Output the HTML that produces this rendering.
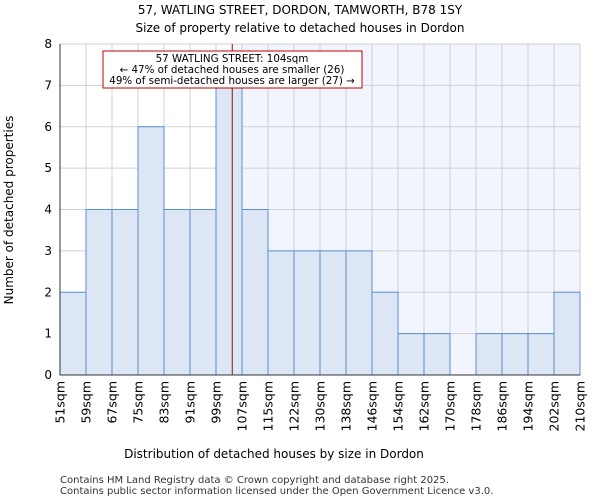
<!DOCTYPE html>
<html><head><meta charset="utf-8"><style>
body{margin:0;background:#fff;font-family:"DejaVu Sans","Liberation Sans",sans-serif}
</style></head><body>
<svg width="600" height="500" xmlns="http://www.w3.org/2000/svg" font-family="DejaVu Sans, Liberation Sans, sans-serif">
<text x="300" y="14" text-anchor="middle" font-size="12">57, WATLING STREET, DORDON, TAMWORTH, B78 1SY</text>
<text x="300" y="32" text-anchor="middle" font-size="12">Size of property relative to detached houses in Dordon</text>
<g id="plot"></g>
<text x="274" y="458" text-anchor="middle" font-size="12">Distribution of detached houses by size in Dordon</text>
<text transform="translate(13,210) rotate(-90)" text-anchor="middle" font-size="12">Number of detached properties</text>
<text x="60" y="483" font-size="10" fill="#333">Contains HM Land Registry data © Crown copyright and database right 2025.</text>
<text x="60" y="494" font-size="10" fill="#333">Contains public sector information licensed under the Open Government Licence v3.0.</text>
</svg>
<script>
const binLabels=["51sqm","59sqm","67sqm","75sqm","83sqm","91sqm","99sqm","107sqm","115sqm","122sqm","130sqm","138sqm","146sqm","154sqm","162sqm","170sqm","178sqm","186sqm","194sqm","202sqm","210sqm"];
const counts=[2,4,4,6,4,4,7,4,3,3,3,3,2,1,1,0,1,1,1,2];
const yTicks=[0,1,2,3,4,5,6,7,8];
const markerBin=6.625;
const NS="http://www.w3.org/2000/svg";
const g=document.getElementById('plot');
const X0=60,X1=580,Y0=375,Y1=44,bw=(X1-X0)/counts.length;
const xs=i=>X0+i*bw, ys=v=>Y0-(v/8)*(Y0-Y1);
function mk(t,a){const e=document.createElementNS(NS,t);for(const k in a)e.setAttribute(k,a[k]);g.appendChild(e);return e;}
const mx=xs(markerBin);
let sh=mk('rect',{x:mx,y:Y1,width:X1-mx,height:Y0-Y1,fill:'#f2f5fd'});


for(let i=0;i<=counts.length;i++){let l=mk('line',{x1:xs(i),x2:xs(i),y1:Y1,y2:Y0,stroke:'#d0d0d0','stroke-width':1});

}
yTicks.forEach(v=>{let l=mk('line',{x1:X0,x2:X1,y1:ys(v),y2:ys(v),stroke:'#d0d0d0','stroke-width':1});


let t=mk('text',{x:X0-8,y:ys(v)+4,'text-anchor':'end','font-size':12});t.textContent=v;

});
counts.forEach((c,i)=>{if(!c)return;let r=mk('rect',{x:xs(i),y:ys(c),width:bw,height:Y0-ys(c),fill:'#dce6f5',stroke:'#5b8fd6','stroke-width':1});

});
binLabels.forEach((s,i)=>{let t=mk('text',{transform:`translate(${xs(i)+4.5},381) rotate(-90)`,'text-anchor':'end','font-size':12.5});t.textContent=s;

});
let ax=mk('line',{x1:X0,x2:X1,y1:Y0,y2:Y0,stroke:'#333'});


let ay=mk('line',{x1:X0,x2:X0,y1:Y1,y2:Y0,stroke:'#333'});


let ml=mk('line',{x1:mx,x2:mx,y1:Y1,y2:Y0,stroke:'#8b1010','stroke-width':1});


let bx=mk('rect',{x:103,y:51,width:259,height:37,fill:'#fff',stroke:'#c00000','stroke-width':1});


["57 WATLING STREET: 104sqm","← 47% of detached houses are smaller (26)","49% of semi-detached houses are larger (27) →"].forEach((s,i)=>{let t=mk('text',{x:232,y:62+i*11,'text-anchor':'middle','font-size':10.3});t.textContent=s;

});
</script>
</body></html>
